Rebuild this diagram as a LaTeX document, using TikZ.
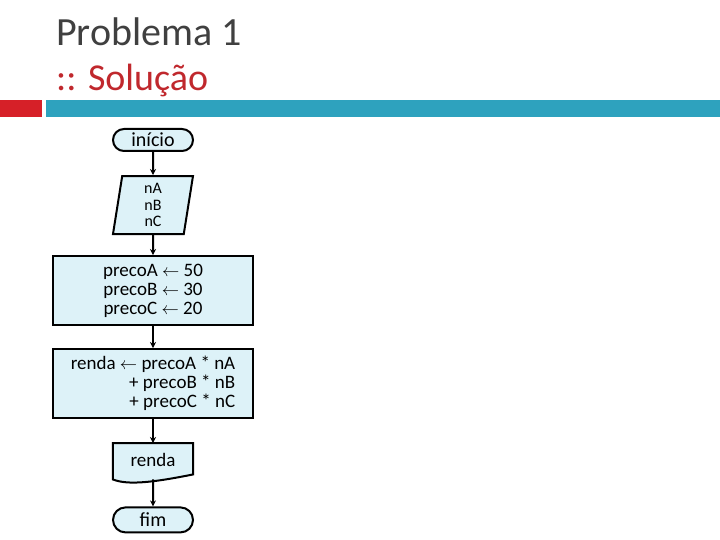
\documentclass[tikz,border=0pt]{standalone}
\usepackage{fontspec}
\setmainfont{Carlito}
\usepackage{tikz}
\usetikzlibrary{shapes.geometric, shapes.misc, arrows, arrows.meta, positioning}
\definecolor{boxfill}{HTML}{DDF2F8}
\definecolor{titlegray}{HTML}{404040}
\definecolor{subred}{HTML}{C0282D}
\definecolor{barred}{HTML}{D62028}
\definecolor{barteal}{HTML}{2EA2BE}
\tikzstyle{terminal} = [rounded rectangle,
minimum width=80pt,
minimum height=22pt, inner sep=0pt,
draw=black, line width=2pt, fill=boxfill,
font=\fontsize{20}{20}\selectfont]
\tikzstyle{io} = [trapezium,
trapezium stretches body=true,
trapezium left angle=78,
trapezium right angle=102,
minimum width=80pt,
minimum height=58pt, text centered, align=center, inner sep=0pt,
draw=black, line width=2pt, fill=boxfill,
font=\fontsize{16}{16.5}\selectfont]
\tikzstyle{process} = [rectangle,
minimum width=200pt,
minimum height=69pt, inner sep=0pt,
draw=black, line width=2pt, fill=boxfill,
font=\fontsize{19}{19}\selectfont]
\tikzstyle{output} = [rectangle,
minimum width=80pt,
minimum height=38pt, inner sep=0pt,
font=\fontsize{19}{19}\selectfont]
\tikzstyle{arrow} = [line width=2pt,->,>={Stealth[length=6pt,width=6pt]}]

\begin{document}
\begin{tikzpicture}[x=1pt, y=-1pt, node distance=22pt]
            \useasboundingbox (0,0) rectangle (720,540);
            % header
            \node (title) [anchor=base west, inner sep=0pt, text=titlegray,
              font=\fontsize{40}{44}\selectfont] at (56,46) {Problema 1};
            \node (sub) [anchor=base west, inner sep=0pt, text=subred,
              font=\fontsize{38}{42}\selectfont] at (56,91) {:: Solução};
            \fill[barred] (0,100) rectangle (42,117);
            \fill[barteal] (46,100) rectangle (720,117);

            % flowchart
            \node (start) [terminal] at (153,140) {início};
            \node (in) [io, below=23pt of start] {nA\\nB\\nC};
            \node (init) [process, below=20pt of in, align=center]
              {precoA $\leftarrow$ 50\\precoB $\leftarrow$ 30\\precoC $\leftarrow$ 20};
            \node (calc) [process, below=of init, align=right]
              {renda $\leftarrow$ precoA * nA\\+ precoB * nB\\+ precoC * nC};
            \node (out) [output, below=24pt of calc] {};
            \draw [line width=2pt, fill=boxfill] (out.north west) -- (out.north east)
              -- ([yshift=7pt]out.south east)
              .. controls +(-40,8) and +(15,6) .. ([yshift=2pt]out.south west) -- cycle;
            \node at ([yshift=2pt]out.center) [font=\fontsize{19}{19}\selectfont] {renda};
            \node (stop) [terminal, minimum height=25pt, below=25pt of out] {fim};

            \draw [arrow] (start) -- (in);
            \draw [arrow] (in) -- (init);
            \draw [arrow] (init) -- (calc);
            \draw [arrow] (calc) -- (out);
            \draw [arrow] ([yshift=2pt]out.south) -- (stop);
        \end{tikzpicture}
\end{document}
